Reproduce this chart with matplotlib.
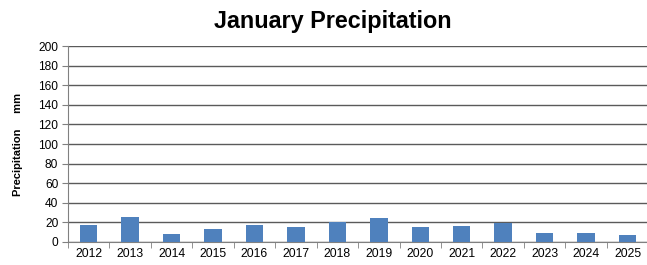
import matplotlib.pyplot as plt
import numpy as np

plt.rcParams['font.family'] = ['Liberation Sans', 'DejaVu Sans']

years = ['2012', '2013', '2014', '2015', '2016', '2017', '2018',
         '2019', '2020', '2021', '2022', '2023', '2024', '2025']
precip = [17.3, 25.2, 8.2, 13.0, 17.3, 15.0, 20.0,
          24.2, 15.6, 16.7, 19.0, 8.9, 8.9, 7.1]

fig = plt.figure(figsize=(6.47, 2.65), dpi=100)
ax = fig.add_axes([0.105, 0.087, 0.897, 0.739])

x = np.arange(len(years))
ax.bar(x, precip, width=0.42, color='#4F81BD', zorder=3)

ax.set_xlim(-0.5, len(years) - 0.5)
ax.set_ylim(0, 200)
ax.set_yticks(range(0, 201, 20))
ax.yaxis.grid(True, color='#5a5a5a', linewidth=1.0, zorder=0)

# category labels in the middle, tick marks between categories
ax.set_xticks(x)
ax.set_xticklabels(years)
ax.set_xticks(np.arange(-0.5, len(years)), minor=True)
ax.tick_params(axis='x', which='major', length=0, labelsize=8.8, pad=4)
ax.tick_params(axis='x', which='minor', length=4, color='#808080', direction='out')
ax.tick_params(axis='y', length=4, color='#808080', labelsize=8.6, pad=3)

for side in ['top', 'right']:
    ax.spines[side].set_visible(False)
ax.spines['left'].set_color('#808080')
ax.spines['bottom'].set_color('#808080')

ax.set_ylabel('Precipitation     mm', fontsize=8, fontweight='bold', labelpad=11)
fig.text(0.515, 0.918, 'January Precipitation', ha='center', va='center',
         fontsize=16.8, fontweight='bold')

fig.savefig('out.png', dpi=100)
